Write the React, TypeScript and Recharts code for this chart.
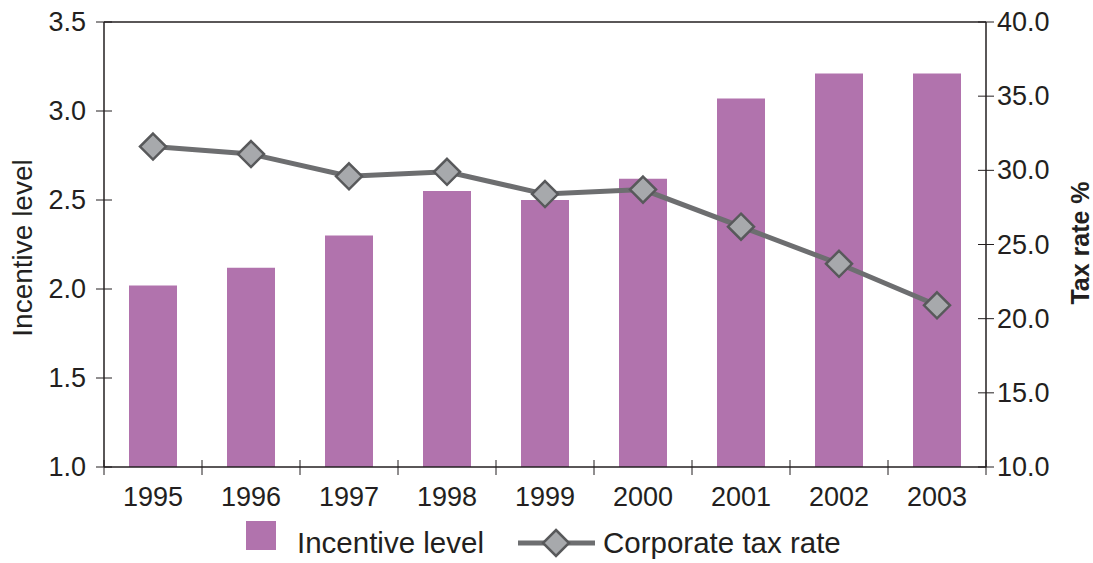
import React from 'react';
import {
  ComposedChart,
  Bar,
  Line,
  XAxis,
  YAxis,
  Legend,
  ReferenceLine,
  Label,
} from 'recharts';

const years = ['1995', '1996', '1997', '1998', '1999', '2000', '2001', '2002', '2003'];
const incentiveLevel = [2.02, 2.12, 2.3, 2.55, 2.5, 2.62, 3.07, 3.21, 3.21];
const corporateTaxRate = [31.6, 31.1, 29.6, 29.9, 28.4, 28.7, 26.2, 23.7, 20.9];
const leftTicks = [1.0, 1.5, 2.0, 2.5, 3.0, 3.5];
const rightTicks = [10, 15, 20, 25, 30, 35, 40];

const chartData = years.map((year, i) => ({
  year,
  incentive: incentiveLevel[i],
  tax: corporateTaxRate[i],
}));

const INK = '#231f20';
const BAR = '#b173ad';
const LINE = '#6d6e70';
const DIAMOND_FILL = '#a7a9ac';
const DIAMOND_STROKE = '#58595b';
const FONT = '"Liberation Sans", Arial, Helvetica, sans-serif';
const HALF_BAND = 49;
const TICK_FONT = 27;

const Diamond = (props: any) => {
  const { cx, cy } = props;
  if (cx == null || cy == null) return null;
  const r = 13;
  return (
    <path
      d={`M${cx},${cy - r} L${cx + r},${cy} L${cx},${cy + r} L${cx - r},${cy} Z`}
      fill={DIAMOND_FILL}
      stroke={DIAMOND_STROKE}
      strokeWidth={2.5}
    />
  );
};

const YearTick = (props: any) => {
  const { x, y, payload, index } = props;
  return (
    <g>
      <line x1={x - HALF_BAND} x2={x - HALF_BAND} y1={y - 7} y2={y + 8} stroke={INK} strokeWidth={1} />
      {index === years.length - 1 && (
        <line x1={x + HALF_BAND} x2={x + HALF_BAND} y1={y - 7} y2={y + 8} stroke={INK} strokeWidth={1} />
      )}
      <text x={x} y={y + 39} textAnchor="middle" fontSize={TICK_FONT} fill={INK} fontFamily={FONT}>
        {payload.value}
      </text>
    </g>
  );
};

const LeftTick = (props: any) => {
  const { x, y, payload } = props;
  return (
    <g>
      <line x1={x - 8} x2={x + 8} y1={y} y2={y} stroke={INK} strokeWidth={1} />
      <text x={x - 18} y={y + 9} textAnchor="end" fontSize={TICK_FONT} fill={INK} fontFamily={FONT}>
        {Number(payload.value).toFixed(1)}
      </text>
    </g>
  );
};

const RightTick = (props: any) => {
  const { x, y, payload } = props;
  return (
    <g>
      <line x1={x - 8} x2={x + 8} y1={y} y2={y} stroke={INK} strokeWidth={1} />
      <text x={x + 11} y={y + 9} textAnchor="start" fontSize={TICK_FONT} fill={INK} fontFamily={FONT}>
        {Number(payload.value).toFixed(1)}
      </text>
    </g>
  );
};

const LegendContent = () => (
  <svg width={1093} height={46} style={{ display: 'block' }}>
    <rect x={246} y={4} width={30} height={29} fill={BAR} />
    <text x={297} y={36} fontSize={29.5} fill={INK} fontFamily={FONT}>
      Incentive level
    </text>
    <line x1={518} x2={595} y1={26} y2={26} stroke={LINE} strokeWidth={5} />
    <Diamond cx={556} cy={26} />
    <text x={603} y={36} fontSize={29.5} fill={INK} fontFamily={FONT}>
      Corporate tax rate
    </text>
  </svg>
);

export default function App() {
  return (
    <div style={{ position: 'absolute', left: 0, top: 0, width: 1093, height: 563, background: '#fff' }}>
      <ComposedChart
        width={1093}
        height={563}
        data={chartData}
        margin={{ top: 22, right: 0, bottom: 0, left: 0 }}
      >
        <XAxis
          dataKey="year"
          height={96}
          axisLine={{ stroke: INK, strokeWidth: 1.5 }}
          tickLine={false}
          tickSize={0}
          tickMargin={0}
          interval={0}
          tick={<YearTick />}
        />
        <YAxis
          yAxisId="left"
          orientation="left"
          width={104}
          domain={[1, 3.5]}
          ticks={leftTicks}
          axisLine={{ stroke: INK, strokeWidth: 1.5 }}
          tickLine={false}
          tickSize={0}
          tickMargin={0}
          tick={<LeftTick />}
        >
          <Label
            content={() => (
              <text
                transform="translate(32, 248) rotate(-90)"
                textAnchor="middle"
                fontSize={28}
                fill={INK}
                fontFamily={FONT}
              >
                Incentive level
              </text>
            )}
          />
        </YAxis>
        <YAxis
          yAxisId="right"
          orientation="right"
          width={107}
          domain={[10, 40]}
          ticks={rightTicks}
          axisLine={{ stroke: INK, strokeWidth: 1.5 }}
          tickLine={false}
          tickSize={0}
          tickMargin={0}
          tick={<RightTick />}
        >
          <Label
            content={() => (
              <text
                transform="translate(1089, 243) rotate(-90)"
                textAnchor="middle"
                fontSize={25}
                fontWeight="bold"
                fill={INK}
                fontFamily={FONT}
              >
                Tax rate %
              </text>
            )}
          />
        </YAxis>
        <ReferenceLine yAxisId="left" y={3.5} stroke={INK} strokeWidth={1.5} />
        <Bar
          yAxisId="left"
          dataKey="incentive"
          name="Incentive level"
          fill={BAR}
          barSize={48}
          isAnimationActive={false}
        />
        <Line
          yAxisId="right"
          dataKey="tax"
          name="Corporate tax rate"
          type="linear"
          stroke={LINE}
          strokeWidth={5}
          dot={<Diamond />}
          activeDot={false}
          isAnimationActive={false}
        />
        <Legend
          layout="horizontal"
          verticalAlign="middle"
          align="center"
          content={<LegendContent />}
          wrapperStyle={{ position: 'absolute', top: 517, left: 0, width: 1093, height: 46 }}
        />
      </ComposedChart>
    </div>
  );
}
